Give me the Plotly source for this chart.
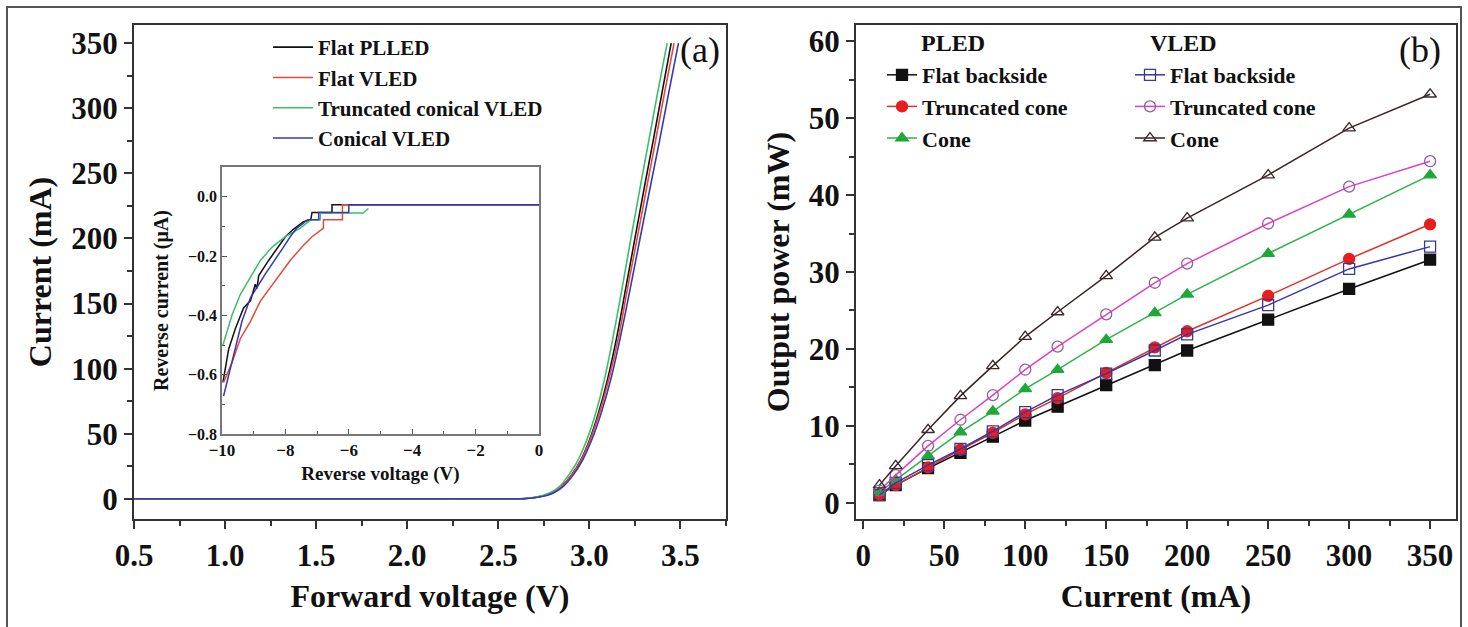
import plotly.graph_objects as go

W, H = 1468, 627

# ---------------- Panel (a): forward I-V ----------------
iv_current = [0, 0, 0.3, 1, 2.3, 5, 10, 18, 29, 45, 66, 92, 124, 162, 200, 238, 275, 313, 350]
v_flat_plled = [0.5, 2.6, 2.65, 2.7, 2.75, 2.8, 2.85, 2.9, 2.95, 3.0, 3.05, 3.1, 3.15, 3.2, 3.25, 3.3, 3.35, 3.4, 3.449]
v_flat_vled = [0.5, 2.6, 2.65, 2.7, 2.75, 2.8, 2.85, 2.9, 2.952, 3.003, 3.055, 3.107, 3.16, 3.21, 3.262, 3.313, 3.363, 3.414, 3.465]
v_trunc_vled = [0.5, 2.59, 2.64, 2.69, 2.74, 2.79, 2.84, 2.885, 2.935, 2.985, 3.035, 3.083, 3.13, 3.18, 3.228, 3.277, 3.326, 3.376, 3.427]
v_conical_vled = [0.5, 2.61, 2.66, 2.71, 2.76, 2.81, 2.86, 2.91, 2.96, 3.012, 3.065, 3.118, 3.17, 3.225, 3.278, 3.332, 3.385, 3.437, 3.489]

# ---------------- Inset: reverse I-V ----------------
rv_black = [-9.97, -9.79, -9.58, -9.32, -9.1, -8.95, -8.9, -8.84, -8.53, -8.3, -8.0, -7.75, -7.43, -7.2, -7.16, -6.53, -6.53, 0]
ri_black = [-0.626, -0.514, -0.445, -0.375, -0.35, -0.295, -0.31, -0.266, -0.215, -0.181, -0.135, -0.11, -0.084, -0.078, -0.053, -0.053, -0.027, -0.027]
rv_red = [-9.95, -9.68, -9.42, -9.1, -8.79, -8.48, -8.16, -7.85, -7.48, -7.16, -6.8, -6.8, -6.2, -6.2, 0]
ri_red = [-0.626, -0.558, -0.478, -0.42, -0.352, -0.306, -0.26, -0.215, -0.17, -0.135, -0.106, -0.078, -0.078, -0.027, -0.027]
rv_green = [-9.97, -9.68, -9.42, -9.05, -8.79, -8.42, -8.0, -7.53, -7.2, -6.9, -6.9, -5.55, -5.38]
ri_green = [-0.5, -0.398, -0.329, -0.26, -0.215, -0.17, -0.135, -0.106, -0.078, -0.078, -0.055, -0.055, -0.04]
rv_blue = [-9.95, -9.63, -9.37, -9.1, -8.63, -8.06, -7.85, -7.64, -7.3, -6.95, -6.95, -6.0, -6.0, 0]
ri_blue = [-0.672, -0.535, -0.42, -0.34, -0.26, -0.17, -0.135, -0.106, -0.078, -0.078, -0.053, -0.053, -0.027, -0.027]

# ---------------- Panel (b): output power ----------------
current_mA = [10, 20, 40, 60, 80, 100, 120, 150, 180, 200, 250, 300, 350]
pled_flat = [1.0, 2.3, 4.5, 6.5, 8.6, 10.7, 12.5, 15.3, 17.9, 19.8, 23.8, 27.8, 31.6]
pled_trunc = [1.1, 2.3, 4.6, 6.9, 9.1, 11.5, 13.6, 16.9, 20.2, 22.3, 26.9, 31.7, 36.2]
pled_cone = [1.4, 3.0, 6.1, 9.2, 11.9, 14.8, 17.3, 21.2, 24.7, 27.1, 32.4, 37.5, 42.6]
vled_flat = [1.0, 2.6, 4.9, 7.0, 9.3, 11.8, 14.0, 16.8, 19.8, 21.9, 25.7, 30.4, 33.3]
vled_trunc = [1.6, 3.6, 7.4, 10.8, 14.0, 17.3, 20.3, 24.5, 28.6, 31.1, 36.3, 41.1, 44.4]
vled_cone = [2.3, 4.8, 9.5, 13.9, 17.8, 21.6, 24.8, 29.5, 34.5, 37.0, 42.6, 48.7, 53.1]

SERIF = "Liberation Serif"

fig = go.Figure()

# (a) traces
for v, name, color in [
    (v_flat_plled, "Flat PLLED", "#111111"),
    (v_flat_vled, "Flat VLED", "#e5483c"),
    (v_trunc_vled, "Truncated conical VLED", "#3cbf6a"),
    (v_conical_vled, "Conical VLED", "#3838b0"),
]:
    fig.add_trace(go.Scatter(x=v, y=iv_current, mode="lines", name=name,
                             line=dict(color=color, width=1.6, shape="spline", smoothing=0.6),
                             xaxis="x", yaxis="y", legend="legend"))

# inset traces
for rv, ri, color in [
    (rv_black, ri_black, "#111111"),
    (rv_red, ri_red, "#e5483c"),
    (rv_green, ri_green, "#3cbf6a"),
    (rv_blue, ri_blue, "#3838b0"),
]:
    fig.add_trace(go.Scatter(x=rv, y=ri, mode="lines", showlegend=False,
                             line=dict(color=color, width=1.5),
                             xaxis="x3", yaxis="y3"))

# (b) traces
for y, name, lc, sym, mc, lg in [
    (pled_flat, "Flat backside", "#111111", "square", "#111111", "legend2"),
    (pled_trunc, "Truncated cone", "#e0302a", "circle", "#e81e1e", "legend2"),
    (pled_cone, "Cone", "#2fb24a", "triangle-up", "#1fa83a", "legend2"),
    (vled_flat, "Flat backside", "#3636a8", "square-open", "#3a3a8a", "legend3"),
    (vled_trunc, "Truncated cone", "#e040c0", "circle-open", "#9a5a9a", "legend3"),
    (vled_cone, "Cone", "#3a2424", "triangle-up-open", "#3a2a2a", "legend3"),
]:
    fig.add_trace(go.Scatter(x=current_mA, y=y, mode="lines+markers", name=name,
                             line=dict(color=lc, width=1.5),
                             marker=dict(symbol=sym, size=11, color=mc,
                                         line=dict(color=mc, width=1.3)),
                             xaxis="x2", yaxis="y2", legend=lg))

axcol = "#333333"
tickf = dict(family=SERIF, size=31, color="#111111", weight="bold")
titlef = dict(family=SERIF, size=32, color="#111111", weight="bold")

def main_axis(**kw):
    d = dict(showline=True, linecolor=axcol, linewidth=2, mirror=True,
             ticks="outside", ticklen=8, tickwidth=2, tickcolor=axcol,
             showgrid=False, zeroline=False, tickfont=tickf, automargin=False,
             minor=dict(ticks="outside", ticklen=5, tickwidth=1.5, tickcolor=axcol))
    d.update(kw)
    return d

ya_top = 1 - 25 / H
ya_bot = 1 - 519 / H

fig.update_layout(
    width=W, height=H,
    margin=dict(l=0, r=0, t=0, b=0, autoexpand=False),
    paper_bgcolor="white", plot_bgcolor="white",
    xaxis=main_axis(domain=[134 / W, 726 / W], range=[0.5, 3.75], anchor="y",
                    tickvals=[0.5, 1.0, 1.5, 2.0, 2.5, 3.0, 3.5],
                    ticktext=["0.5", "1.0", "1.5", "2.0", "2.5", "3.0", "3.5"],
                    minor_dtick=0.25, minor_tick0=0.5,
                    title=dict(text="Forward voltage (V)", font=titlef, standoff=12)),
    yaxis=main_axis(domain=[ya_bot, ya_top], range=[-15.5, 364], anchor="x",
                    dtick=50, tick0=0, minor_dtick=25, minor_tick0=0,
                    title=dict(text="Current (mA)", font=titlef, standoff=10)),
    xaxis2=main_axis(domain=[856 / W, 1456 / W], range=[-4.5, 366], anchor="y2",
                     dtick=50, tick0=0, minor_dtick=25, minor_tick0=0,
                     title=dict(text="Current (mA)", font=titlef, standoff=12)),
    yaxis2=main_axis(domain=[ya_bot, ya_top], range=[-2.1, 62.1], anchor="x2",
                     dtick=10, tick0=0, minor_dtick=5, minor_tick0=0,
                     title=dict(text="Output power (mW)", font=titlef, standoff=10)),
    xaxis3=dict(domain=[222 / W, 539 / W], range=[-10, 0], anchor="y3", automargin=False,
                showline=True, linecolor="#777777", linewidth=1.5, mirror=True,
                ticks="inside", ticklen=5, tickcolor="#555555", dtick=2, tick0=0,
                minor=dict(ticks="inside", ticklen=3, dtick=1, tick0=0, tickcolor="#555555"),
                showgrid=False, zeroline=False,
                tickfont=dict(family=SERIF, size=17, color="#111111", weight="bold"),
                title=dict(text="Reverse voltage (V)", standoff=8,
                           font=dict(family=SERIF, size=19, color="#111111", weight="bold"))),
    yaxis3=dict(domain=[1 - 434 / H, 1 - 167 / H], range=[-0.8, 0.1], anchor="x3", automargin=False,
                showline=True, linecolor="#777777", linewidth=1.5, mirror=True,
                ticks="inside", ticklen=5, tickcolor="#555555", dtick=0.2, tick0=0,
                tickformat=".1f",
                minor=dict(ticks="inside", ticklen=3, dtick=0.1, tick0=0, tickcolor="#555555"),
                showgrid=False, zeroline=False,
                tickfont=dict(family=SERIF, size=16, color="#111111", weight="bold"),
                title=dict(text="Reverse current (μA)", standoff=14,
                           font=dict(family=SERIF, size=20, color="#111111", weight="bold"))),
    legend=dict(x=268 / W, y=1 - 27 / H, xanchor="left", yanchor="top",
                bgcolor="rgba(0,0,0,0)", tracegroupgap=0, itemwidth=40,
                font=dict(family=SERIF, size=21, color="#111111", weight="bold")),
    legend2=dict(x=882 / W, y=1 - 54 / H, xanchor="left", yanchor="top",
                 bgcolor="rgba(0,0,0,0)", tracegroupgap=0,
                 font=dict(family=SERIF, size=22, color="#111111", weight="bold")),
    legend3=dict(x=1130 / W, y=1 - 54 / H, xanchor="left", yanchor="top",
                 bgcolor="rgba(0,0,0,0)", tracegroupgap=0,
                 font=dict(family=SERIF, size=22, color="#111111", weight="bold")),
    showlegend=True,
)

fig.add_annotation(text="PLED", x=953 / W, y=1 - 43 / H, xref="paper", yref="paper",
                   xanchor="center", yanchor="middle",
                   showarrow=False, font=dict(family=SERIF, size=24, color="#111111", weight="bold"))
fig.add_annotation(text="VLED", x=1183 / W, y=1 - 43 / H, xref="paper", yref="paper",
                   xanchor="center", yanchor="middle",
                   showarrow=False, font=dict(family=SERIF, size=24, color="#111111", weight="bold"))
fig.add_annotation(text="(a)", x=700 / W, y=1 - 50 / H, xref="paper", yref="paper",
                   xanchor="center", yanchor="middle",
                   showarrow=False, font=dict(family=SERIF, size=36, color="#111111"))
fig.add_annotation(text="(b)", x=1420 / W, y=1 - 50 / H, xref="paper", yref="paper",
                   xanchor="center", yanchor="middle",
                   showarrow=False, font=dict(family=SERIF, size=36, color="#111111"))

# outer frame of the figure
fig.add_shape(type="rect", xref="paper", yref="paper",
              x0=7 / W, x1=1461 / W, y0=-0.02, y1=1 - 7 / H,
              line=dict(color="#555555", width=2), fillcolor="rgba(0,0,0,0)")

fig.write_html("out.html", config={"displayModeBar": False},
               post_script="document.body.style.margin='0';document.body.style.overflow='hidden';")
